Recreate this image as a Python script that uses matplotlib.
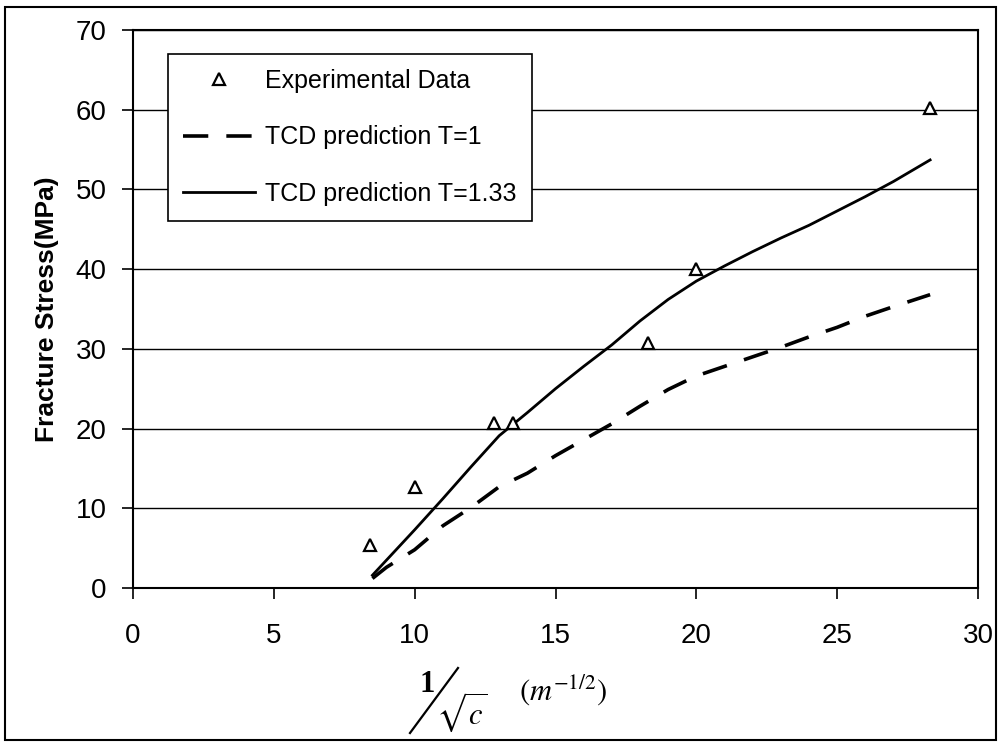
import matplotlib
matplotlib.use("Agg")
import matplotlib.pyplot as plt
from matplotlib.lines import Line2D
from matplotlib.patches import Rectangle

plt.rcParams['font.family'] = ['Liberation Sans', 'DejaVu Sans']
plt.rcParams['mathtext.fontset'] = 'stix'

# experimental data
exp_x = [8.4, 10.0, 12.8, 13.5, 18.3, 20.0, 28.3]
exp_y = [5.4, 12.7, 20.7, 20.7, 30.7, 40.0, 60.2]

# TCD prediction T=1 (dashed)
t1_x = [8.5, 9, 10, 11, 12, 13, 14, 15, 16, 17, 18, 19, 20, 21, 22, 23, 24, 25, 26, 27, 28.3]
t1_y = [1.2, 2.6, 4.8, 7.8, 10.1, 12.7, 14.4, 16.6, 18.6, 20.6, 22.8, 24.9, 26.6, 27.8, 29.0,
        30.2, 31.5, 32.7, 34.1, 35.3, 36.8]

# TCD prediction T=1.33 (solid)
t133_x = [8.5, 10, 11, 12, 13, 14, 15, 16, 17, 18, 19, 20, 21, 22, 23, 24, 25, 26, 27, 28.3]
t133_y = [1.6, 7.3, 11.2, 15.2, 19.1, 22.0, 25.0, 27.8, 30.5, 33.5, 36.2, 38.5, 40.4, 42.2,
          43.9, 45.5, 47.3, 49.1, 51.0, 53.7]

xticks = [0, 5, 10, 15, 20, 25, 30]
yticks = [0, 10, 20, 30, 40, 50, 60, 70]

W, H = 998, 742
fig = plt.figure(figsize=(W / 100, H / 100), dpi=100)
ax = fig.add_axes([133 / W, 1 - 588 / H, (978 - 133) / W, (588 - 30) / H])

ax.plot(exp_x, exp_y, linestyle='none', marker='^', markersize=9, markerfacecolor='white',
        markeredgecolor='black', markeredgewidth=1.6, label='Experimental Data', zorder=4)
ax.plot(t1_x, t1_y, color='black', lw=2.6, dashes=(7, 5), label='TCD prediction T=1', zorder=3)
ax.plot(t133_x, t133_y, color='black', lw=2.0, label='TCD prediction T=1.33', zorder=3)

ax.set_xlim(0, 30)
ax.set_ylim(0, 70)
ax.set_xticks(xticks)
ax.set_yticks(yticks)
ax.yaxis.grid(True, color='black', lw=1.0)
ax.set_axisbelow(True)
for s in ax.spines.values():
    s.set_linewidth(1.5)
ax.tick_params(axis='both', direction='out', length=8, width=1.2, labelsize=20, colors='black')
ax.tick_params(axis='y', pad=11)
ax.tick_params(axis='x', pad=17)

ax.set_ylabel('Fracture Stress(MPa)', fontsize=19, fontweight='bold', labelpad=12)

leg = ax.legend(loc='upper left', bbox_to_anchor=(0.041, 0.957), borderaxespad=0,
                fontsize=18, frameon=True, fancybox=False, edgecolor='black',
                handlelength=2.9, handletextpad=0.4, labelspacing=1.3, borderpad=0.6,
                numpoints=1)
leg.get_frame().set_linewidth(1.2)
leg.get_frame().set_alpha(1)

# x axis label drawn as pieces: 1 / sqrt(c)   (m^-1/2)
fig.text(427 / W, 1 - 684 / H, '1', fontsize=22, fontweight='bold', family='Liberation Serif',
         ha='center', va='center')
fig.add_artist(Line2D([410 / W, 458 / W], [1 - 733 / H, 1 - 668 / H], color='black', lw=1.6,
                      transform=fig.transFigure))
fig.text(462 / W, 1 - 712 / H, r'$\sqrt{c}$', fontsize=22, ha='center', va='center')
fig.text(563 / W, 1 - 690 / H, r'$(m^{-1/2})$', fontsize=22, ha='center', va='center')

# outer border of the chart area
fig.add_artist(Rectangle((5 / W, 2 / H), 991 / W, 733 / H, fill=False, edgecolor='black',
                         lw=1.5, transform=fig.transFigure))

fig.savefig('out.png', dpi=100, facecolor='white')
